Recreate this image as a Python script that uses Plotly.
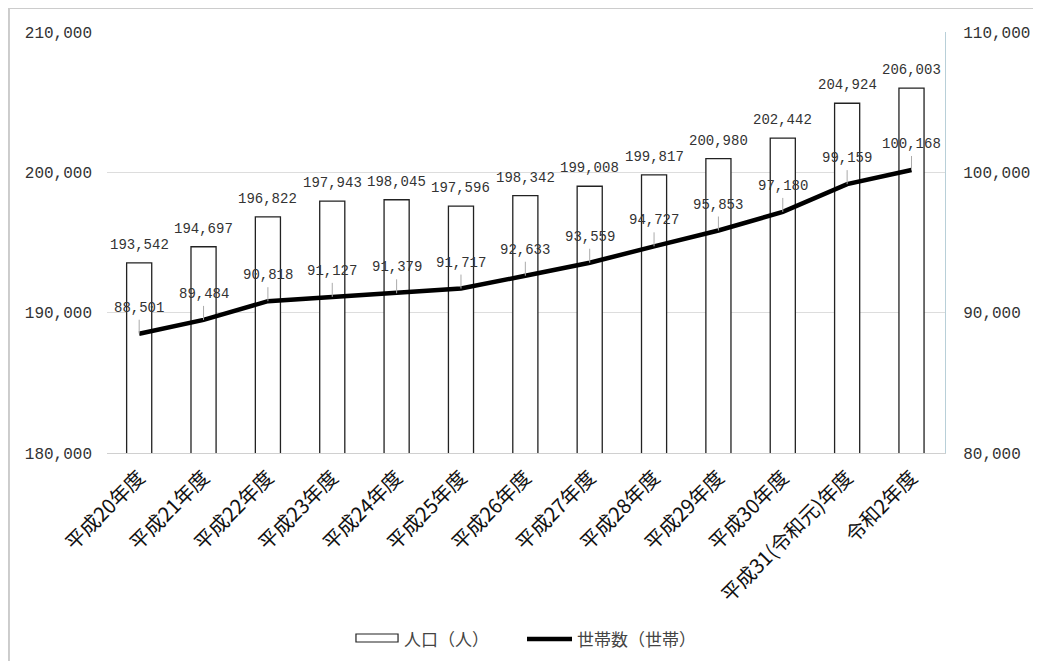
import plotly.graph_objects as go

categories = ["平成20年度", "平成21年度", "平成22年度", "平成23年度", "平成24年度", "平成25年度",
              "平成26年度", "平成27年度", "平成28年度", "平成29年度", "平成30年度",
              "平成31(令和元)年度", "令和2年度"]
population = [193542, 194697, 196822, 197943, 198045, 197596, 198342, 199008, 199817,
              200980, 202442, 204924, 206003]
households = [88501, 89484, 90818, 91127, 91379, 91717, 92633, 93559, 94727, 95853,
              97180, 99159, 100168]
left_ticks = [180000, 190000, 200000, 210000]
right_ticks = [80000, 90000, 100000, 110000]
legend_names = ["人口（人）", "世帯数（世帯）"]

FONT = "Noto Sans CJK JP"
NUMFONT = "Liberation Mono"
TXT = "#333333"

fig = go.Figure()
fig.add_trace(go.Bar(
    x=categories, y=population, name=legend_names[0],
    marker=dict(color="white", line=dict(color="#222222", width=1.3)),
))
fig.add_trace(go.Scatter(
    x=categories, y=households, name=legend_names[1], yaxis="y2",
    mode="lines", line=dict(color="black", width=4.5),
))
for c, v in zip(categories, population):
    fig.add_annotation(
        x=c, y=v, xref="x", yref="y", text=f"{v:,}", showarrow=False,
        yanchor="bottom", yshift=8, font=dict(family=NUMFONT, size=14, color=TXT),
    )
for c, v in zip(categories, households):
    fig.add_annotation(
        x=c, y=v, xref="x", yref="y2", text=f"{v:,}", showarrow=True,
        arrowhead=0, arrowwidth=1, arrowcolor="#aaaaaa", ax=0, ay=-14,
        yanchor="bottom", borderpad=3, font=dict(family=NUMFONT, size=14, color=TXT),
        standoff=0,
    )

# outer frame
fig.add_shape(type="rect", xref="paper", yref="paper", x0=-0.117, x1=1.14,
              y0=-0.55, y1=1.057, line=dict(color="#cccccc", width=2),
              fillcolor="rgba(0,0,0,0)", layer="below")

# legend (wide outlined box key for the bars, thick line key for the line)
fig.add_shape(type="rect", xref="paper", yref="paper", x0=0.2971, x1=0.3473,
              y0=-0.4489, y1=-0.4299, line=dict(color="#222222", width=1.2),
              fillcolor="white")
fig.add_annotation(xref="paper", yref="paper", x=0.3520, y=-0.4418, xanchor="left",
                   yanchor="middle", showarrow=False, text=legend_names[0],
                   font=dict(family=FONT, size=17, color="#444444"))
fig.add_shape(type="line", xref="paper", yref="paper", x0=0.5012, x1=0.5549,
              y0=-0.4418, y1=-0.4418, line=dict(color="black", width=4.5))
fig.add_annotation(xref="paper", yref="paper", x=0.5585, y=-0.4418, xanchor="left",
                   yanchor="middle", showarrow=False, text=legend_names[1],
                   font=dict(family=FONT, size=17, color="#444444"))

fig.update_layout(
    width=1041, height=661,
    margin=dict(l=99, r=104, t=24, b=216),
    paper_bgcolor="white", plot_bgcolor="white",
    bargap=0.61,
    showlegend=False,
    xaxis=dict(type="category", tickangle=-45,
               tickfont=dict(family=FONT, size=20, color="#111111"),
               showline=True, linecolor="#d0d0d0", linewidth=1, ticks="",
               ticklabelstandoff=4),
    yaxis=dict(range=[180000, 210000], tickvals=left_ticks,
               ticktext=[f"{v:,}" for v in left_ticks],
               tickfont=dict(family=NUMFONT, size=16, color=TXT),
               showgrid=True, gridcolor="#dddddd", gridwidth=1, zeroline=False,
               ticks="", ticklen=0, showline=False, ticklabelstandoff=14),
    yaxis2=dict(range=[80000, 110000], tickvals=right_ticks,
                ticktext=[f"{v:,}" for v in right_ticks],
                tickfont=dict(family=NUMFONT, size=16, color=TXT),
                overlaying="y", side="right", showgrid=False, zeroline=False,
                showline=True, linecolor="#b8cfd8", linewidth=1, ticks="",
                ticklabelstandoff=14),
    font=dict(family=FONT, color=TXT),
)

fig.write_html("out.html")
